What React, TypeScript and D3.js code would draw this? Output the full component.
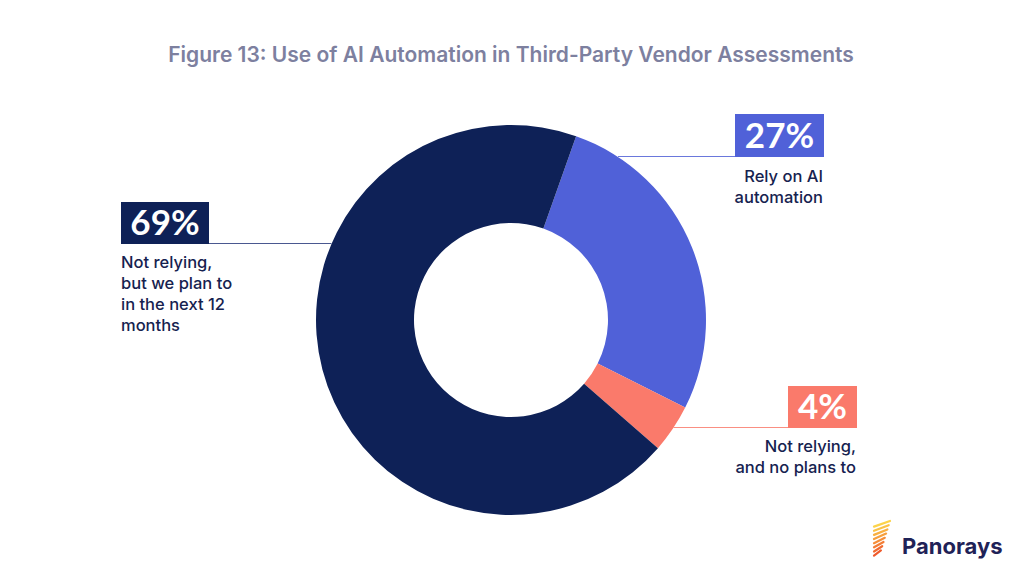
import * as d3 from "d3";
import { useEffect, useRef } from "react";

// chart data
const categories = [
  "Rely on AI automation",
  "Not relying, and no plans to",
  "Not relying, but we plan to in the next 12 months",
];
const values = [27, 4, 69];
const labelLines = [
  ["Rely on AI", "automation"],
  ["Not relying,", "and no plans to"],
  ["Not relying,", "but we plan to", "in the next 12", "months"],
];
const title = "Figure 13: Use of AI Automation in Third-Party Vendor Assessments";

const colors = ["#5061d8", "#fa7a6b", "#0e2157"];
const lineColors = ["#6a78dc", "#fa8f82", "#4a5890"];

// where each callout box sits (left/right side, box top-left, text anchor)
const callouts = [
  { side: "right", bx: 735, by: 114, bw: 89, bh: 43, textY: 182 },
  { side: "right", bx: 788, by: 386, bw: 69, bh: 42, textY: 452 },
  { side: "left", bx: 121, by: 202, bw: 88, bh: 42, textY: 268 },
];

const W = 1024;
const H = 583;
const cx = 511;
const cy = 320;
const outerR = 195;
const innerR = 97;
const startDeg = 19.5;

const App = () => {
  const ref = useRef(null);

  useEffect(() => {
    const svg = d3.select(ref.current);
    svg.selectAll("*").remove();

    svg.append("rect").attr("width", W).attr("height", H).attr("fill", "#ffffff");

    svg.append("text")
      .attr("x", 511)
      .attr("y", 62)
      .attr("text-anchor", "middle")
      .style("font-family", "Inter, sans-serif")
      .style("font-weight", 600)
      .style("font-size", "21px")
      .style("fill", "#7d809f")
      .text(title);

    const start = (startDeg * Math.PI) / 180;
    const pie = d3.pie<number>()
      .sort(null)
      .startAngle(start)
      .endAngle(start + Math.PI * 2)(values);

    const arc = d3.arc<d3.PieArcDatum<number>>()
      .innerRadius(innerR)
      .outerRadius(outerR);

    const g = svg.append("g").attr("transform", `translate(${cx},${cy})`);
    g.selectAll("path")
      .data(pie)
      .enter()
      .append("path")
      .attr("d", arc)
      .attr("fill", (d, i) => colors[i]);

    // callouts
    callouts.forEach((c, i) => {
      const lineY = c.by + c.bh;
      const dy = lineY - cy;
      const dx = Math.sqrt(outerR * outerR - dy * dy);
      const edgeX = c.side === "left" ? cx - dx : cx + dx;
      const boxEdge = c.side === "left" ? c.bx + c.bw : c.bx;

      svg.append("line")
        .attr("x1", boxEdge)
        .attr("x2", edgeX)
        .attr("y1", lineY - 0.5)
        .attr("y2", lineY - 0.5)
        .attr("stroke", lineColors[i])
        .attr("stroke-width", 1.2);

      svg.append("rect")
        .attr("x", c.bx)
        .attr("y", c.by)
        .attr("width", c.bw)
        .attr("height", c.bh)
        .attr("fill", colors[i]);

      svg.append("text")
        .attr("x", c.bx + c.bw / 2)
        .attr("y", c.by + c.bh / 2 + 12)
        .attr("text-anchor", "middle")
        .style("font-family", "Lato, sans-serif")
        .style("font-weight", 700)
        .style("font-size", "35px")
        .style("fill", "#ffffff")
        .text(`${values[i]}%`);

      const t = svg.append("text")
        .attr("text-anchor", c.side === "left" ? "start" : "end")
        .style("font-family", "Inter, sans-serif")
        .style("font-weight", 500)
        .style("font-size", "16.5px")
        .style("fill", "#16224f");
      labelLines[i].forEach((ln, j) => {
        t.append("tspan")
          .attr("x", c.side === "left" ? c.bx : c.bx + c.bw - 1)
          .attr("y", c.textY + j * 21)
          .text(ln);
      });
    });

    // logo
    const logo = svg.append("g");
    const rayColor = d3.scaleLinear<string>().domain([0, 7]).range(["#fcd34a", "#ef5a2c"]);
    d3.range(8).forEach((k) => {
      const y0 = 521 + k * 4.6;
      const len = 16 - k * 1.3;
      logo.append("line")
        .attr("x1", 874)
        .attr("y1", y0 + len * 0.35)
        .attr("x2", 874 + len)
        .attr("y2", y0 - k * 0.4)
        .attr("stroke", rayColor(k))
        .attr("stroke-width", 2.2)
        .attr("stroke-linecap", "round");
    });
    logo.append("text")
      .attr("x", 902)
      .attr("y", 554)
      .style("font-family", "Inter, sans-serif")
      .style("font-weight", 700)
      .style("font-size", "22px")
      .style("fill", "#1f2257")
      .text("Panorays");
  }, []);

  return (
    <svg
      ref={ref}
      width={W}
      height={H}
      style={{ position: "absolute", left: 0, top: 0, display: "block" }}
    />
  );
};

export default App;
